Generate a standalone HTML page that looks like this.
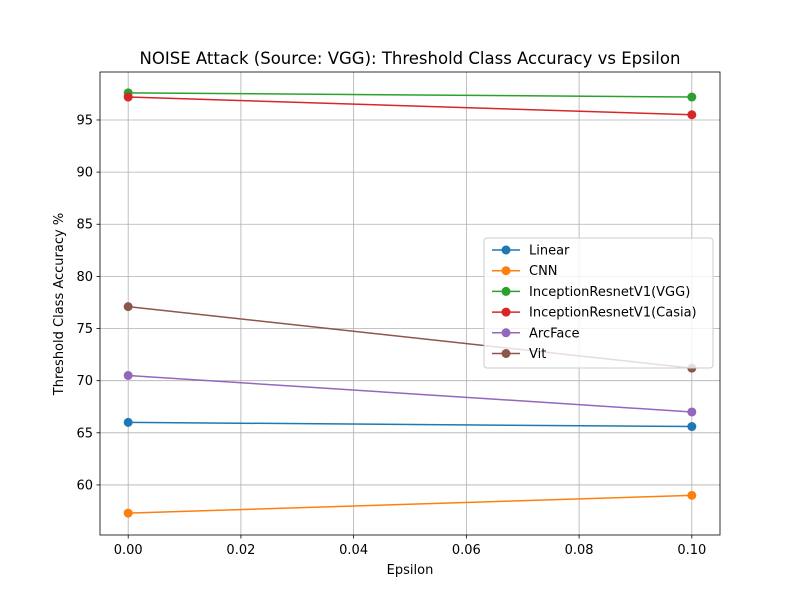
<!DOCTYPE html>
<html><head><meta charset="utf-8"><style>
body{margin:0;background:#fff;font-family:"Liberation Sans","DejaVu Sans",sans-serif;}
svg text{font-family:"DejaVu Sans","Liberation Sans",sans-serif;}
</style></head><body>
<svg id="chart" width="800" height="600" xmlns="http://www.w3.org/2000/svg">
<rect width="800" height="600" fill="#fff"/>
<text x="410" y="64" font-size="16.5" text-anchor="middle">NOISE Attack (Source: VGG): Threshold Class Accuracy vs Epsilon</text>
<g id="grid"></g><g id="axes"></g><g id="series"></g><g id="legend"></g>
<text x="410" y="574" font-size="13" text-anchor="middle">Epsilon</text>
<text x="63" y="304" font-size="13" text-anchor="middle" transform="rotate(-90 63 304)">Threshold Class Accuracy %</text>
</svg>
<script>
const epsilons=[0,0.1];
const seriesNames=["Linear","CNN","InceptionResnetV1(VGG)","InceptionResnetV1(Casia)","ArcFace","Vit"];
const linearVals=[66.0,65.6];
const cnnVals=[57.3,59.0];
const vggVals=[97.6,97.2];
const casiaVals=[97.2,95.5];
const arcfaceVals=[70.5,67.0];
const vitVals=[77.1,71.2];
const xTicks=[0,0.02,0.04,0.06,0.08,0.1];
const xTickLabels=["0.00","0.02","0.04","0.06","0.08","0.10"];
const yTicks=[60,65,70,75,80,85,90,95];
const allVals=[linearVals,cnnVals,vggVals,casiaVals,arcfaceVals,vitVals];
const colors=["#1f77b4","#ff7f0e","#2ca02c","#d62728","#9467bd","#8c564b"];
const L=100,R=720,T=72,B=535;
const xMin=-0.005,xMax=0.105,yMin=55.2,yMax=99.6;
const xs=v=>L+(v-xMin)/(xMax-xMin)*(R-L);
const ys=v=>B-(v-yMin)/(yMax-yMin)*(B-T);
const NS="http://www.w3.org/2000/svg";
function mk(tag,attrs,parent,txt){const e=document.createElementNS(NS,tag);for(const k in attrs)e.setAttribute(k,attrs[k]);if(txt!==undefined)e.textContent=txt;parent.appendChild(e);return e;}
const grid=document.getElementById('grid'),axes=document.getElementById('axes'),ser=document.getElementById('series'),leg=document.getElementById('legend');
xTicks.forEach((t,i)=>{const x=xs(t);
 const g=mk('line',{x1:x,x2:x,y1:T,y2:B,stroke:'#b0b0b0','stroke-width':0.8},grid);
 
 
 mk('line',{x1:x,x2:x,y1:B,y2:B+3.5,stroke:'#000','stroke-width':0.8},axes);
 const tl=mk('text',{x:x,y:B+19,'font-size':13,'text-anchor':'middle'},axes,xTickLabels[i]);
 
 
});
yTicks.forEach(t=>{const y=ys(t);
 const g=mk('line',{x1:L,x2:R,y1:y,y2:y,stroke:'#b0b0b0','stroke-width':0.8},grid);
 
 
 mk('line',{x1:L-3.5,x2:L,y1:y,y2:y,stroke:'#000','stroke-width':0.8},axes);
 const tl=mk('text',{x:L-7,y:y+4.5,'font-size':13,'text-anchor':'end'},axes,String(t));
 
 
});
const fr=mk('rect',{x:L,y:T,width:R-L,height:B-T,fill:'none',stroke:'#000','stroke-width':0.8},axes);


allVals.forEach((vals,si)=>{
 const g=mk('g',{},ser);
 
 
 mk('polyline',{points:vals.map((v,i)=>xs(epsilons[i])+','+ys(v)).join(' '),fill:'none',stroke:colors[si],'stroke-width':1.5},g);
 vals.forEach((v,i)=>{const c=mk('circle',{cx:xs(epsilons[i]),cy:ys(v),r:4.5,fill:colors[si]},g);
  
  });
});
const lb=mk('rect',{x:484,y:238,width:229,height:130,rx:3,fill:'#fff','fill-opacity':0.8,stroke:'#ccc'},leg);


seriesNames.forEach((n,i)=>{const y=250+i*20.7;
 const g=mk('g',{},leg);
 
 
 mk('line',{x1:492,x2:520,y1:y,y2:y,stroke:colors[i],'stroke-width':1.5},g);
 mk('circle',{cx:506,cy:y,r:4.5,fill:colors[i]},g);
 mk('text',{x:529,y:y+4.5,'font-size':13},g,n);
});
</script>
</body></html>
